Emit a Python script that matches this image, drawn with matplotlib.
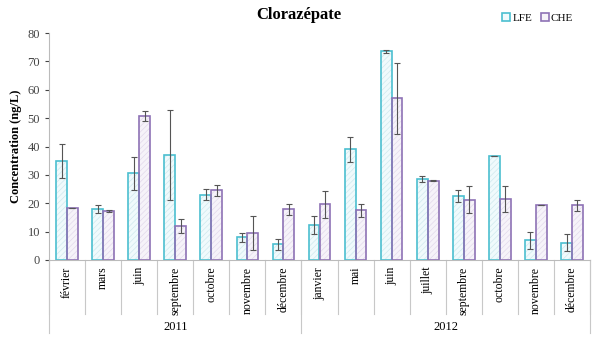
import matplotlib.pyplot as plt
import numpy as np
from matplotlib.patches import Patch

plt.rcParams['font.family'] = ['Liberation Serif', 'DejaVu Serif']
plt.rcParams['hatch.linewidth'] = 0.5

# Data
months = ['février', 'mars', 'juin', 'septembre', 'octobre', 'novembre', 'décembre',
          'janvier', 'mai', 'juin', 'juillet', 'septembre', 'octobre', 'novembre', 'décembre']
years = ['2011', '2012']
year_counts = [7, 8]

lfe = [35, 18, 30.5, 37, 23, 8, 5.5, 12.3, 39, 73.5, 28.5, 22.5, 36.7, 7, 6]
lfe_err = [6, 1.3, 5.7, 16, 2, 1.5, 2, 3.3, 4.5, 0.4, 1, 2, 0, 3, 3]
che = [18.3, 17.3, 50.7, 12, 24.5, 9.5, 17.8, 19.6, 17.5, 57, 28, 21.3, 21.5, 19.3, 19.3]
che_err = [0, 0.4, 1.8, 2.5, 2, 6, 2, 4.7, 2.3, 12.5, 0.3, 4.7, 4.5, 0, 2]

fig = plt.figure(figsize=(5.92, 3.41), dpi=100)
ax = fig.add_axes([49 / 592, 81 / 341, 541 / 592, 227 / 341])

x = np.arange(len(months))
w = 0.3
ekw = dict(ecolor='#555555', elinewidth=0.8, capsize=2, capthick=0.8)
# hatched light fill first, then the coloured outline with error bars on top
ax.bar(x - w / 2, lfe, w, facecolor='#f0fafc', edgecolor='#cfe9ee', linewidth=0, hatch='//////')
ax.bar(x + w / 2, che, w, facecolor='#f6f3f9', edgecolor='#e2d9ec', linewidth=0, hatch='//////')
ax.bar(x - w / 2, lfe, w, yerr=lfe_err, fill=False, edgecolor='#4bbfd0',
       linewidth=1.2, error_kw=ekw)
ax.bar(x + w / 2, che, w, yerr=che_err, fill=False, edgecolor='#8e72b5',
       linewidth=1.2, error_kw=ekw)

ax.set_xlim(-0.5, len(months) - 0.5)
ax.set_ylim(0, 80)
ax.set_yticks(range(0, 81, 10))
ax.tick_params(axis='y', labelsize=9, colors='#444444', length=3)
ax.set_xticks([])
for s in ['top', 'right']:
    ax.spines[s].set_visible(False)
ax.spines['left'].set_color('#bbbbbb')
ax.spines['bottom'].set_color('#bbbbbb')

ax.set_ylabel('Concentration (ng/L)', fontsize=9, fontweight='bold')
fig.text(0.505, 0.955, 'Clorazépate', ha='center', va='center', fontsize=12, fontweight='bold')

# multi-level category axis
trans = ax.get_xaxis_transform()
line_kw = dict(color='#c8c8c8', lw=0.8, transform=trans, clip_on=False)
for i, m in enumerate(months):
    ax.text(i, -0.03, m, rotation=90, ha='center', va='top', fontsize=8.5, transform=trans)
for i in range(len(months) + 1):
    ax.plot([i - 0.5, i - 0.5], [0, -0.24], **line_kw)
start = 0
for yr, n in zip(years, year_counts):
    ax.plot([start - 0.5, start - 0.5], [0, -0.32], **line_kw)
    ax.text(start + (n - 1) / 2, -0.295, yr, ha='center', va='center', fontsize=9, transform=trans)
    start += n
ax.plot([start - 0.5, start - 0.5], [0, -0.32], **line_kw)

handles = [Patch(facecolor='#f0fafc', edgecolor='#4bbfd0', linewidth=1.2, label='LFE'),
           Patch(facecolor='#f6f3f9', edgecolor='#8e72b5', linewidth=1.2, label='CHE')]
fig.legend(handles=handles, loc='center right', bbox_to_anchor=(0.985, 0.948), ncol=2,
           frameon=False, fontsize=8, handlelength=0.7, handleheight=0.7,
           handletextpad=0.2, columnspacing=0.8)

plt.savefig('out.png', dpi=100)
